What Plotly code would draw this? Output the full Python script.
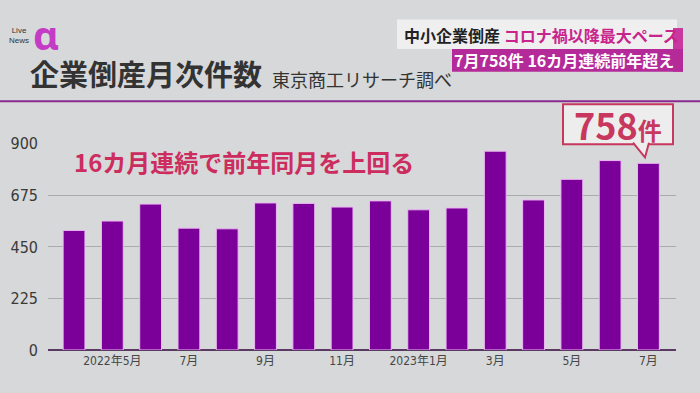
import plotly.graph_objects as go

# ---- data ----
months = ["2022年4月", "2022年5月", "2022年6月", "2022年7月", "2022年8月", "2022年9月",
          "2022年10月", "2022年11月", "2022年12月", "2023年1月", "2023年2月", "2023年3月",
          "2023年4月", "2023年5月", "2023年6月", "2023年7月"]
counts = [522, 563, 637, 532, 529, 642, 640, 624, 651, 612, 620, 868, 655, 745, 827, 815]
tick_months = ["2022年5月", "2022年7月", "2022年9月", "2022年11月",
               "2023年1月", "2023年3月", "2023年5月", "2023年7月"]
tick_labels = ["2022年5月", "7月", "9月", "11月", "2023年1月", "3月", "5月", "7月"]
y_ticks = [0, 225, 450, 675, 900]

W, H = 700, 393
BG = "#d6d8d9"
CJK = "Noto Sans CJK JP"
NARROW = "Liberation Sans Narrow, DejaVu Sans Condensed, Noto Sans CJK JP, sans-serif"


def fx(p):
    return p / W


def fy(p):
    return 1 - p / H


fig = go.Figure()
fig.add_trace(go.Bar(
    x=months, y=counts,
    marker=dict(color="#7a0099", line=dict(color="#ecb8f2", width=1)),
    hoverinfo="skip",
))

fig.update_layout(
    width=W, height=H, autosize=False,
    margin=dict(l=0, r=0, t=0, b=0),
    paper_bgcolor=BG, plot_bgcolor=BG,
    showlegend=False,
    bargap=0.43,
    xaxis=dict(
        domain=[fx(48), fx(676)],
        type="category",
        range=[-0.68, 15.72],
        tickmode="array", tickvals=tick_months, ticktext=tick_labels,
        showgrid=False, zeroline=False, showline=False, ticks="",
        tickfont=dict(family=NARROW, size=12, color="#464646"),
        ticklabelstandoff=2,
    ),
    yaxis=dict(
        domain=[fy(358.3), fy(141.7)],
        range=[0, 900],
        tickmode="array", tickvals=y_ticks,
        showgrid=True, gridcolor="#a9abad", gridwidth=1,
        zeroline=True, zerolinecolor="#5a3a62", zerolinewidth=2,
        showline=False, ticks="",
        tickfont=dict(family=NARROW, size=16, color="#3a3a3a"),
        ticklabelstandoff=9,
    ),
)

shapes = []
annotations = []

# header underline
shapes.append(dict(type="line", xref="paper", yref="paper",
                   x0=0, x1=1, y0=fy(97), y1=fy(97),
                   line=dict(color="#8a2a90", width=2)))

# top-right caption boxes
shapes.append(dict(type="rect", xref="paper", yref="paper",
                   x0=fx(397), x1=fx(677), y0=fy(42), y1=fy(11),
                   fillcolor="rgba(240,240,241,0.95)", line=dict(width=0)))
shapes.append(dict(type="rect", xref="paper", yref="paper",
                   x0=fx(673), x1=fx(683), y0=fy(66), y1=fy(20),
                   fillcolor="#c8389e", line=dict(width=0)))
shapes.append(dict(type="rect", xref="paper", yref="paper",
                   x0=fx(452), x1=fx(683), y0=fy(66), y1=fy(42),
                   fillcolor="#b42a98", line=dict(width=0)))

annotations.append(dict(
    xref="paper", yref="paper", x=fx(402), y=fy(27), xanchor="left", yanchor="middle",
    text="<b><span style='color:#222222'>中小企業倒産</span> "
         "<span style='color:#c8248c'>コロナ禍以降最大ペース</span></b>",
    showarrow=False, font=dict(family=CJK, size=16)))
annotations.append(dict(
    xref="paper", yref="paper", x=fx(676), y=fy(54), xanchor="right", yanchor="middle",
    text="<b>7月758件 16カ月連続前年超え</b>",
    showarrow=False, font=dict(family=CJK, size=16, color="#ffffff")))

# title
annotations.append(dict(
    xref="paper", yref="paper", x=fx(28), y=fy(91), xanchor="left", yanchor="bottom",
    text="<b>企業倒産月次件数</b>", showarrow=False,
    font=dict(family=CJK, size=29, color="#333333")))
annotations.append(dict(
    xref="paper", yref="paper", x=fx(270), y=fy(89), xanchor="left", yanchor="bottom",
    text="東京商工リサーチ調べ", showarrow=False,
    font=dict(family=CJK, size=18, color="#333333")))

# logo
annotations.append(dict(
    xref="paper", yref="paper", x=fx(46), y=fy(27), xanchor="center", yanchor="middle",
    text="<b>α</b>", showarrow=False,
    font=dict(family="Noto Sans", size=40, color="#c43cc6")))
annotations.append(dict(
    xref="paper", yref="paper", x=fx(31), y=fy(28), xanchor="right", yanchor="middle",
    text="Live<br>News", showarrow=False,
    font=dict(family="Liberation Sans", size=8, color="#333333")))

# in-chart headline
annotations.append(dict(
    xref="paper", yref="paper", x=fx(72), y=fy(160), xanchor="left", yanchor="middle",
    text="<b>16カ月連続で前年同月を上回る</b>", showarrow=False,
    font=dict(family=CJK, size=24, color="#cc2c5e")))

# callout box for latest month
RED = "#c8385e"
shapes.append(dict(type="rect", xref="paper", yref="paper",
                   x0=fx(563), x1=fx(673), y0=fy(142), y1=fy(100),
                   fillcolor="#ededee", line=dict(color=RED, width=2)))
tail = "M {:.5f},{:.5f} L {:.5f},{:.5f} L {:.5f},{:.5f}".format(
    fx(633), fy(140.5), fx(645), fy(156), fx(649), fy(140.5))
shapes.append(dict(type="path", xref="paper", yref="paper", path=tail,
                   fillcolor="#ededee", line=dict(color=RED, width=2)))
annotations.append(dict(
    xref="paper", yref="paper", x=fx(618), y=fy(121), xanchor="center", yanchor="middle",
    text="<b>758<span style='font-size:24px'>件</span></b>", showarrow=False,
    font=dict(family=CJK, size=36, color=RED)))

fig.update_layout(shapes=shapes, annotations=annotations)
fig.write_html(
    "out.html",
    config={"responsive": False, "displayModeBar": False, "staticPlot": True},
    post_script=("document.body.style.margin='0';"
                 "document.body.style.background='" + BG + "';"
                 "document.documentElement.style.background='" + BG + "';"
                 "document.body.style.overflow='hidden';"))
